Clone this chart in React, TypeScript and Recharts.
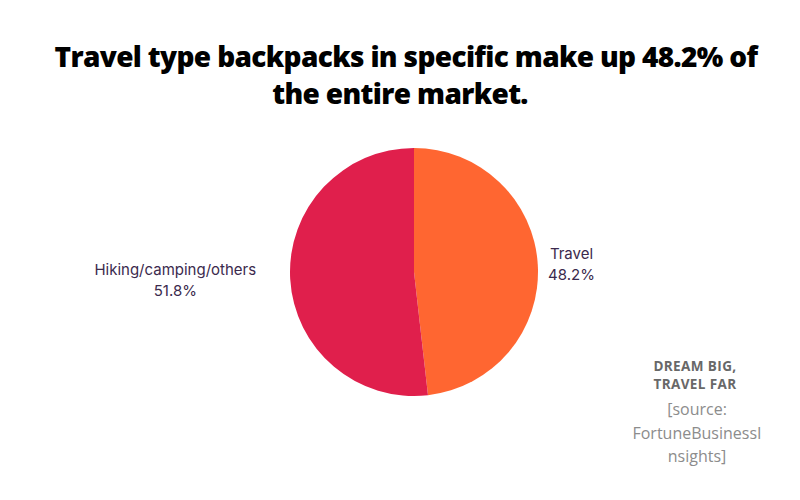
import { Cell, Pie, PieChart } from 'recharts';

const categories = ['Travel', 'Hiking/camping/others'];
const shares = [48.2, 51.8];
const sliceColors = ['#FF6631', '#E01F4C'];
const titleLines = ['Travel type backpacks in specific make up 48.2% of', 'the entire market.'];
const taglineLines = ['DREAM BIG,', 'TRAVEL FAR'];
const sourceLines = ['[source:', 'FortuneBusinessI', 'nsights]'];

const data = categories.map((name, i) => ({ name, value: shares[i] }));

const RADIAN = Math.PI / 180;

function renderLabel(props: any) {
  const { cx, cy, midAngle, outerRadius, name, value } = props;
  const cos = Math.cos(-midAngle * RADIAN);
  const sin = Math.sin(-midAngle * RADIAN);
  const right = cos >= 0;
  const gap = right ? 10 : 32;
  const x = cx + (outerRadius + gap) * cos;
  const y = cy + (outerRadius + 10) * sin;
  const halfWidth = name.length * 3.95;
  const center = right ? x + halfWidth : x - halfWidth;
  return (
    <text
      x={center}
      y={y}
      textAnchor="middle"
      fill="#3B2A4D"
      style={{ fontFamily: 'Inter, sans-serif', fontSize: 15 }}
    >
      <tspan x={center} dy={-5}>{name}</tspan>
      <tspan x={center} dy={21}>{`${value}%`}</tspan>
    </text>
  );
}

export default function App() {
  return (
    <div style={{ position: 'absolute', left: 0, top: 0, width: 800, height: 500, background: '#fff' }}>
      <div style={{ position: 'absolute', left: 0, top: 0 }}>
        <PieChart width={800} height={500} margin={{ top: 0, right: 0, bottom: 0, left: 0 }}>
          <Pie
            data={data}
            dataKey="value"
            nameKey="name"
            cx={414}
            cy={272}
            outerRadius={124}
            startAngle={90}
            endAngle={-270}
            stroke="none"
            label={renderLabel}
            labelLine={false}
            isAnimationActive={false}
          >
            {data.map((d, i) => (
              <Cell key={d.name} fill={sliceColors[i]} />
            ))}
          </Pie>
        </PieChart>
      </div>
      <div
        style={{
          position: 'absolute',
          top: 38,
          left: 0,
          width: 800,
          textAlign: 'center',
          fontFamily: '"Open Sans", sans-serif',
          fontWeight: 800,
          fontSize: 28,
          letterSpacing: -0.65,
          lineHeight: '37px',
          color: '#000',
        }}
      >
        {titleLines.map((l, i) => (
          <div key={l} style={{ paddingLeft: i === 0 ? 12 : 0 }}>{l}</div>
        ))}
      </div>
      <div
        style={{
          position: 'absolute',
          top: 357,
          left: 625,
          width: 140,
          textAlign: 'center',
          fontFamily: '"Open Sans", sans-serif',
          fontWeight: 700,
          fontSize: 13.5,
          letterSpacing: 0.4,
          lineHeight: '18px',
          color: '#686868',
        }}
      >
        {taglineLines.map((l) => (
          <div key={l}>{l}</div>
        ))}
      </div>
      <div
        style={{
          position: 'absolute',
          top: 398,
          left: 617,
          width: 160,
          textAlign: 'center',
          fontFamily: '"Open Sans", sans-serif',
          fontSize: 16,
          lineHeight: '23.5px',
          color: '#8C8C8C',
        }}
      >
        {sourceLines.map((l) => (
          <div key={l}>{l}</div>
        ))}
      </div>
    </div>
  );
}
